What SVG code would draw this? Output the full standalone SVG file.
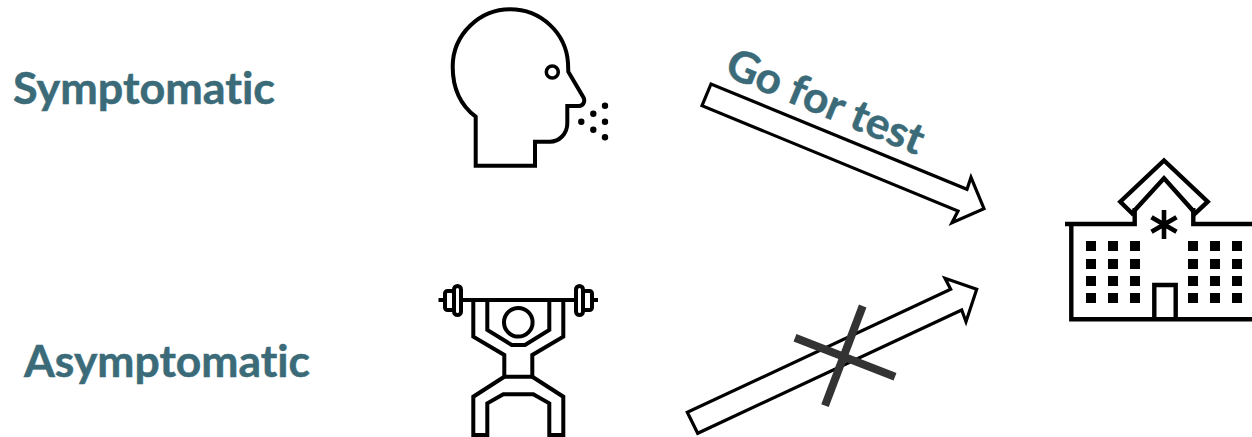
<svg xmlns="http://www.w3.org/2000/svg" width="1252" height="437" viewBox="0 0 1252 437">
<style>
.label{font-family:"Lato","Carlito","Liberation Sans",sans-serif;font-weight:700;fill:#3b6b78;font-size:43px;font-variant-ligatures:none;stroke:#3b6b78;stroke-width:.5}
.ic{fill:none;stroke:#000;stroke-width:4;stroke-linejoin:miter;stroke-linecap:butt}
.hs{stroke-width:4.400}
.arrow{fill:#fff;stroke:#000;stroke-width:3.200}
.x{stroke:#333;stroke-width:8;fill:none}
.win{fill:#000}
</style>
<rect width="1252" height="437" fill="#fff"/>
<text class="label" x="13" y="104" textLength="262" lengthAdjust="spacingAndGlyphs">Symptomatic</text>
<text class="label" x="24" y="377" textLength="286" lengthAdjust="spacingAndGlyphs">Asymptomatic</text>
<g id="connectors">
<polygon class="arrow" points="711,84 702,105.700 958,211 952,222.700 984,208.700 971,177.300 967,189.300"/>
<polygon class="arrow" points="687.300,412.300 697.700,433.300 961.700,310 966,321.700 976.700,289.300 945,278.300 950.700,289.300"/>
<text class="label" transform="translate(723,75) rotate(22.500)" x="0" y="0" textLength="210" lengthAdjust="spacingAndGlyphs">Go for test</text>
<line class="x" x1="795" y1="337.700" x2="895" y2="376.700"/>
<line class="x" x1="862.700" y1="306" x2="825" y2="405.700"/>
</g>
<g id="head">
<path class="ic" d="M475.700 116.700C459 104 452.700 85 452.700 66.700C452.700 34 480 9.300 510 9.300C541 9.300 566 33 568 63L568.300 71.700L583.500 97.500C585.500 101.500 583 106 579 106L567.300 106L567.300 123.300C567.300 134 559 141.700 550 141.700L535 141.700L535 165.700L475.700 165.700Z"/>
<circle cx="552.300" cy="72" r="6" fill="none" stroke="#000" stroke-width="3.500"/>
<g fill="#000">
<circle cx="605" cy="105.700" r="3.200"/><circle cx="593.300" cy="113.700" r="3.200"/><circle cx="581.300" cy="121.700" r="3.200"/><circle cx="605" cy="121.700" r="3.200"/><circle cx="593.300" cy="129.700" r="3.200"/><circle cx="605" cy="137.300" r="3.200"/>
</g>
</g>
<g id="lifter">
<path class="ic" stroke-linecap="round" d="M438.500 300H445M461 300H576M591 300H598"/>
<rect class="ic" x="454" y="286" width="7" height="29" rx="3.500"/>
<rect class="ic" x="445" y="291" width="9" height="19" rx="2.500"/>
<rect class="ic" x="576" y="286" width="7" height="29" rx="3.500"/>
<rect class="ic" x="583" y="291" width="9" height="19" rx="2.500"/>
<path class="ic" d="M473.300 300V336.700L504.300 355V376.700H532.300V355L563.300 336.700V300"/>
<path class="ic" d="M487.300 300V330L511.700 345H525L549.300 330V300"/>
<circle class="ic" cx="518.300" cy="322.300" r="14.300"/>
<path class="ic" d="M504.300 376.700L473.300 396.700V435H487.300V403.300L503.300 394.300H533.300L549.300 403.300V435H563.300V396.700L532.300 376.700"/>
</g>
<g id="hospital">
<path class="ic hs" d="M1132 213.300L1120.300 201.700L1164 160.500L1207.700 201.700L1195.300 213.300L1164 178.300Z"/>
<path class="ic hs" d="M1134.700 208V224H1065M1193.300 208V224H1252M1071.300 224V319.300H1252"/>
<path class="ic hs" d="M1154.300 319.300V285H1175.700V319.300"/>
<path fill="none" stroke="#000" stroke-width="4.600" d="M1164 210V239M1151.500 217.200L1176.500 231.800M1176.500 217.200L1151.500 231.800"/>
<g class="win">
<rect x="1086" y="241" width="10" height="10"/><rect x="1108" y="241" width="10" height="10"/><rect x="1130" y="241" width="10" height="10"/><rect x="1188" y="241" width="10" height="10"/><rect x="1210" y="241" width="10" height="10"/><rect x="1232" y="241" width="10" height="10"/>
<rect x="1086" y="259" width="10" height="10"/><rect x="1108" y="259" width="10" height="10"/><rect x="1130" y="259" width="10" height="10"/><rect x="1188" y="259" width="10" height="10"/><rect x="1210" y="259" width="10" height="10"/><rect x="1232" y="259" width="10" height="10"/>
<rect x="1086" y="276" width="10" height="10"/><rect x="1108" y="276" width="10" height="10"/><rect x="1130" y="276" width="10" height="10"/><rect x="1188" y="276" width="10" height="10"/><rect x="1210" y="276" width="10" height="10"/><rect x="1232" y="276" width="10" height="10"/>
<rect x="1086" y="293" width="10" height="10"/><rect x="1108" y="293" width="10" height="10"/><rect x="1130" y="293" width="10" height="10"/><rect x="1188" y="293" width="10" height="10"/><rect x="1210" y="293" width="10" height="10"/><rect x="1232" y="293" width="10" height="10"/>
</g>
</g>
</svg>
